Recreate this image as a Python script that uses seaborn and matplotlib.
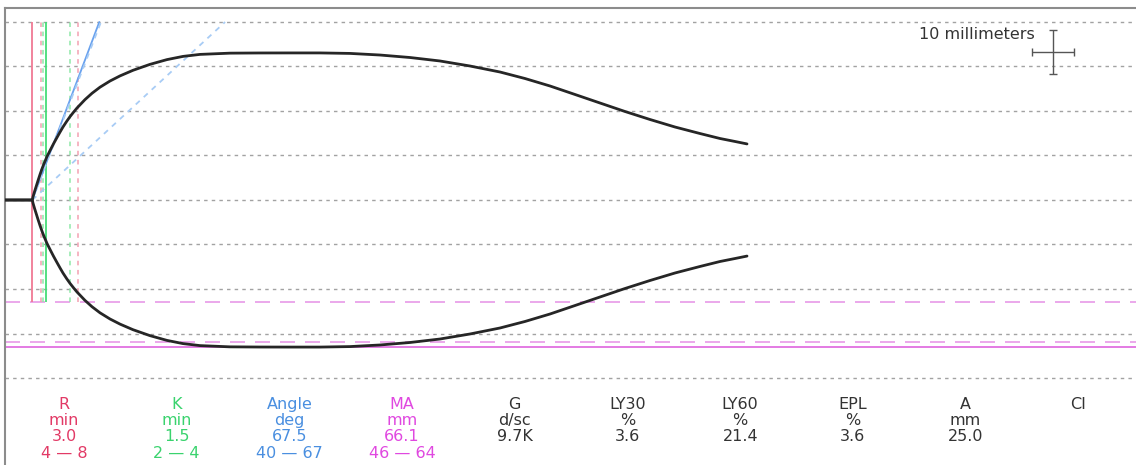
import matplotlib
matplotlib.use("Agg")
import matplotlib.pyplot as plt
import numpy as np
import pandas as pd
import seaborn as sns

# Trace: time (min) vs half amplitude (mm), upper branch
trace_time = [0.0, 3.0, 3.08, 3.24, 3.41, 3.63, 3.85, 4.07, 4.29, 4.62, 4.95, 5.33, 5.71,
              6.04, 6.37, 6.76, 7.14, 7.53, 7.91, 8.79, 9.56, 10.44, 11.54, 12.64, 14.07,
              15.93, 17.80, 19.56, 21.43, 24.73, 28.02, 31.32, 34.62, 37.91, 41.21, 44.51,
              47.80, 51.10, 54.40, 57.14, 59.89, 62.64, 65.38, 68.13, 70.88, 73.63, 76.37,
              78.57, 80.22, 81.54]
trace_amp = [0.0, 0.0, 0.72, 1.84, 2.94, 4.38, 5.75, 7.03, 8.20, 9.78, 11.12, 12.63, 14.04,
             15.24, 16.40, 17.62, 18.72, 19.73, 20.67, 22.56, 23.98, 25.35, 26.74, 27.89, 29.15,
             30.48, 31.55, 32.27, 32.72, 33.00, 33.04, 33.05, 33.05, 32.94, 32.58, 32.02,
             31.24, 30.11, 28.76, 27.30, 25.62, 23.71, 21.80, 19.89, 18.09, 16.40, 14.94,
             13.82, 13.15, 12.60]

# Parameter panel
param_names = ["R", "K", "Angle", "MA", "G", "LY30", "LY60", "EPL", "A", "CI"]
param_units = ["min", "min", "deg", "mm", "d/sc", "%", "%", "%", "mm", ""]
param_values = ["3.0", "1.5", "67.5", "66.1", "9.7K", "3.6", "21.4", "3.6", "25.0", ""]
param_ranges = ["4 \u2014 8", "2 \u2014 4", "40 \u2014 67", "46 \u2014 64", "", "", "", "", "", ""]
param_colors = ["#e23a66", "#3ad36e", "#4a8fe0", "#e048e0", "#333333",
                "#333333", "#333333", "#333333", "#333333", "#333333"]

R = 3.0
K = 1.5
ANGLE = 67.5
MA = 66.1
R_RANGE = [4, 8]
K_MARKS = [4.2, 7.1]          # green dashed reference lines (min)
ANGLE_RANGE = [40, 67]
MA_RANGE = [46, 64]

# layout (pixels of the 1136x465 picture)
W, H = 1136, 465
PX_MIN = 9.1      # px per minute
PX_MM = 4.45      # px per mm
X0, Y0 = 5, 200   # origin pixel
TOP = 8
FS = 11.5

sns.set_style("white")
plt.rcParams["font.family"] = ["DejaVu Sans"]

fig = plt.figure(figsize=(W / 100, H / 100), dpi=100)
ax = fig.add_axes([X0 / W, 0, 1 - X0 / W, (H - TOP) / H])
ax.set_xlim(0, (W - X0) / PX_MIN)
ax.set_ylim((Y0 - H) / PX_MM, (Y0 - TOP) / PX_MM)

# grid every 10 mm
for g in range(-40, 41, 10):
    ax.axhline(g, color="#a2a2a2", lw=1, dashes=(2.5, 3), zorder=1)

# MA lines (lower half)
for m in MA_RANGE:
    ax.axhline(-m / 2, color="#e89ae8", lw=1.2, dashes=(9, 6), zorder=2)
ax.axhline(-MA / 2, color="#e37be3", lw=1.4, zorder=2)

# R / K verticals
vlo, vhi = -MA_RANGE[0] / 2, 40
ax.vlines(R, vlo, vhi, color="#f07a94", lw=1.3, zorder=2)
ax.vlines(R_RANGE, vlo, vhi, color="#f4a0b2", lw=1.1, linestyles=(0, (3, 3)), zorder=2)
ax.vlines(R + K, vlo, vhi, color="#45dd77", lw=1.3, zorder=2)
ax.vlines(K_MARKS, vlo, vhi, color="#8fe8a8", lw=1.1, linestyles=(0, (3, 3)), zorder=2)

# angle lines from the R point
PAPER = 2.25  # mm of amplitude per min for a 45 deg slope on the chart
for a, style, col in [(ANGLE, "-", "#6aa2ee")] + [(a, (0, (3, 3)), "#a8ccf5") for a in ANGLE_RANGE]:
    slope = np.tan(np.radians(a)) * PAPER
    ax.plot([R, R + 40 / slope], [0, 40], color=col, lw=1.3, linestyle=style, zorder=3)

# trace
df = pd.DataFrame({"t": trace_time + trace_time,
                   "amp": trace_amp + [-v for v in trace_amp],
                   "side": ["up"] * len(trace_time) + ["down"] * len(trace_time)})
for side, d in df.groupby("side"):
    sns.lineplot(data=d, x="t", y="amp", sort=False, estimator=None, ax=ax,
                 color="#262626", lw=2, zorder=4)
ax.set_xlabel("")
ax.set_ylabel("")
ax.set_xticks([])
ax.set_yticks([])

# scale bar: 10 millimeters
bx, by = (1053 - X0) / PX_MIN, (Y0 - 52) / PX_MM
ax.errorbar(bx, by, xerr=21 / PX_MIN, yerr=5, color="#555555", lw=1, capsize=3, capthick=1)
ax.text(bx - 2.0, 37.2, "10 millimeters", ha="right", va="center", fontsize=FS, color="#333333")

for s in ["right", "bottom"]:
    ax.spines[s].set_visible(False)
for s in ["left", "top"]:
    ax.spines[s].set_color("#8c8c8c")
    ax.spines[s].set_linewidth(1.5)

# parameter panel
rows = [param_names, param_units, param_values, param_ranges]
baselines = [409, 425, 441, 457.5]
for i in range(len(param_names)):
    cx = 64 + i * 112.7
    for row, yb in zip(rows, baselines):
        if row[i]:
            fig.text(cx / W, 1 - yb / H, row[i], ha="center", va="baseline",
                     fontsize=FS, color=param_colors[i])

fig.savefig("out.png", dpi=100)
